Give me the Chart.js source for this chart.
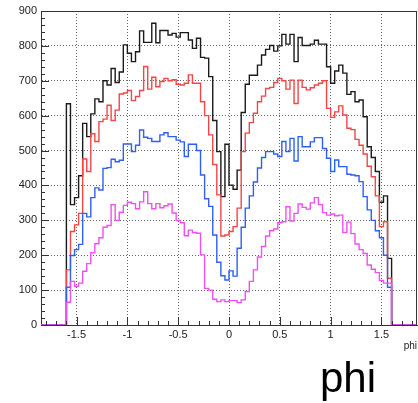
<!DOCTYPE html>
<html>
<head>
<meta charset="utf-8">
<script src="https://cdn.jsdelivr.net/npm/chart.js@4"></script>
<style>
    body { margin: 0; background: #fff; }
    #wrap { position: relative; width: 418px; height: 403px; overflow: hidden; }
    #bigTitle {
        position: absolute; left: 320px; top: 357px;
        font: 42px "Liberation Sans", Arial, sans-serif; line-height: 42px; color: #000;
    }
</style>
</head>
<body>
<div id="wrap">
    <canvas id="phiChart" width="418" height="403"></canvas>
    <div id="bigTitle">phi</div>
</div>
<script>
// histogram binning (phi), 80 bins of 0.04 from -1.6 to 1.6
const binStart = -1.6;
const binWidth = 0.04;
const xMin = -1.85;
const xMax = 1.85;
const xTicks = [-1.5, -1, -0.5, 0, 0.5, 1, 1.5];

const blackCounts = [
    634, 345, 365, 428, 578, 540, 605, 648, 640, 700,
    688, 735, 695, 725, 803, 779, 755, 783, 843, 810,
    810, 865, 809, 844, 844, 831, 836, 825, 838, 838,
    817, 793, 822, 767, 765, 712, 586, 497, 368, 518,
    401, 389, 444, 609, 690, 716, 716, 745, 774, 790,
    801, 785, 800, 833, 805, 833, 755, 824, 801, 801,
    805, 816, 805, 805, 740, 693, 728, 745, 722, 661,
    669, 640, 645, 597, 511, 480, 440, 352, 370, 191
];
const redCounts = [
    158, 268, 287, 320, 476, 440, 548, 526, 583, 590,
    630, 586, 616, 662, 665, 672, 643, 655, 672, 741,
    676, 710, 683, 698, 707, 700, 703, 690, 688, 693,
    717, 693, 693, 640, 600, 545, 460, 373, 255, 258,
    268, 282, 335, 497, 550, 580, 607, 640, 656, 678,
    681, 695, 707, 700, 676, 702, 635, 702, 681, 674,
    680, 688, 693, 700, 621, 595, 611, 628, 602, 564,
    560, 532, 515, 490, 455, 425, 370, 282, 296, 134
];
const blueCounts = [
    108, 199, 216, 231, 320, 310, 365, 393, 387, 449,
    451, 475, 468, 472, 519, 519, 497, 515, 559, 538,
    535, 526, 526, 545, 551, 540, 540, 530, 525, 483,
    518, 518, 500, 430, 362, 340, 258, 180, 141, 129,
    155, 140, 220, 280, 335, 370, 410, 450, 480, 497,
    497, 490, 483, 526, 497, 535, 470, 540, 511, 511,
    525, 537, 537, 506, 478, 440, 473, 454, 454, 432,
    430, 428, 411, 368, 330, 300, 270, 250, 200, 108
];
const magentaCounts = [
    65, 125, 111, 120, 154, 176, 207, 233, 250, 280,
    285, 345, 300, 323, 343, 352, 348, 333, 353, 382,
    348, 333, 348, 336, 342, 347, 321, 300, 293, 256,
    272, 265, 263, 201, 105, 100, 74, 67, 72, 67,
    70, 70, 64, 72, 96, 125, 158, 195, 225, 255,
    270, 275, 293, 296, 339, 298, 320, 347, 337, 332,
    350, 365, 345, 322, 315, 318, 313, 315, 265, 295,
    262, 232, 216, 205, 172, 160, 150, 128, 120, 120
];

// bin contents -> step outline points (left edge of each bin, then back to zero)
function histPoints(counts) {
    const pts = [{ x: xMin, y: 0 }];
    counts.forEach((c, i) => pts.push({ x: binStart + i * binWidth, y: c }));
    pts.push({ x: binStart + counts.length * binWidth, y: 0 });
    pts.push({ x: xMax, y: 0 });
    return pts;
}

const histLine = (counts, color) => ({
    data: histPoints(counts),
    borderColor: color,
    borderWidth: 1.4,
    stepped: 'before',
    pointRadius: 0,
    fill: false
});

// ROOT style frame: inner tick marks + top/right border
const rootFrame = {
    id: 'rootFrame',
    afterDatasetsDraw(chart) {
        const { ctx, chartArea: a, scales: { x, y } } = chart;
        ctx.save();
        ctx.strokeStyle = '#333';
        ctx.lineWidth = 1;
        ctx.beginPath();
        for (let v = 0; v <= 900; v += 20) {
            const py = Math.round(y.getPixelForValue(v)) + 0.5;
            const len = v % 100 === 0 ? 8 : 4;
            ctx.moveTo(a.left, py);
            ctx.lineTo(a.left + len, py);
        }
        for (let k = -18; k <= 18; k++) {
            const px = Math.round(x.getPixelForValue(k / 10)) + 0.5;
            const len = k % 5 === 0 ? 8 : 4;
            ctx.moveTo(px, a.bottom);
            ctx.lineTo(px, a.bottom - len);
        }
        ctx.moveTo(a.left, a.top + 0.5);
        ctx.lineTo(a.right, a.top + 0.5);
        ctx.moveTo(a.right - 0.5, a.top);
        ctx.lineTo(a.right - 0.5, a.bottom);
        ctx.stroke();
        ctx.restore();
    }
};

const tickFont = { family: '"Liberation Sans", Arial, sans-serif', size: 11 };

new Chart(document.getElementById('phiChart'), {
    type: 'line',
    data: {
        datasets: [
            histLine(magentaCounts, '#f050f0'),
            histLine(blueCounts, '#2f5ff5'),
            histLine(redCounts, '#f54545'),
            histLine(blackCounts, '#1a1a1a')
        ]
    },
    options: {
        responsive: false,
        animation: false,
        layout: { padding: { top: 11, right: 1, left: 0, bottom: 43 } },
        plugins: { legend: { display: false }, tooltip: { enabled: false } },
        scales: {
            x: {
                type: 'linear',
                min: xMin,
                max: xMax,
                afterBuildTicks: (s) => { s.ticks = xTicks.map(v => ({ value: v })); },
                afterFit: (s) => { s.height = 35; },
                grid: { color: '#666', drawTicks: false },
                border: { color: '#333', dash: [1, 2] },
                ticks: { font: tickFont, color: '#222', padding: 3, maxRotation: 0, callback: (v) => String(v) },
                title: {
                    display: true, text: 'phi', align: 'end', color: '#222',
                    font: { family: '"Liberation Sans", Arial, sans-serif', size: 10 },
                    padding: { top: 0, bottom: 8 }
                }
            },
            y: {
                min: 0,
                max: 900,
                afterFit: (s) => { s.width = 41; },
                grid: { color: '#666', drawTicks: false },
                border: { color: '#333', dash: [1, 2] },
                ticks: { stepSize: 100, font: tickFont, color: '#222', padding: 4, callback: (v) => String(v) }
            }
        }
    },
    plugins: [rootFrame]
});
</script>
</body>
</html>
